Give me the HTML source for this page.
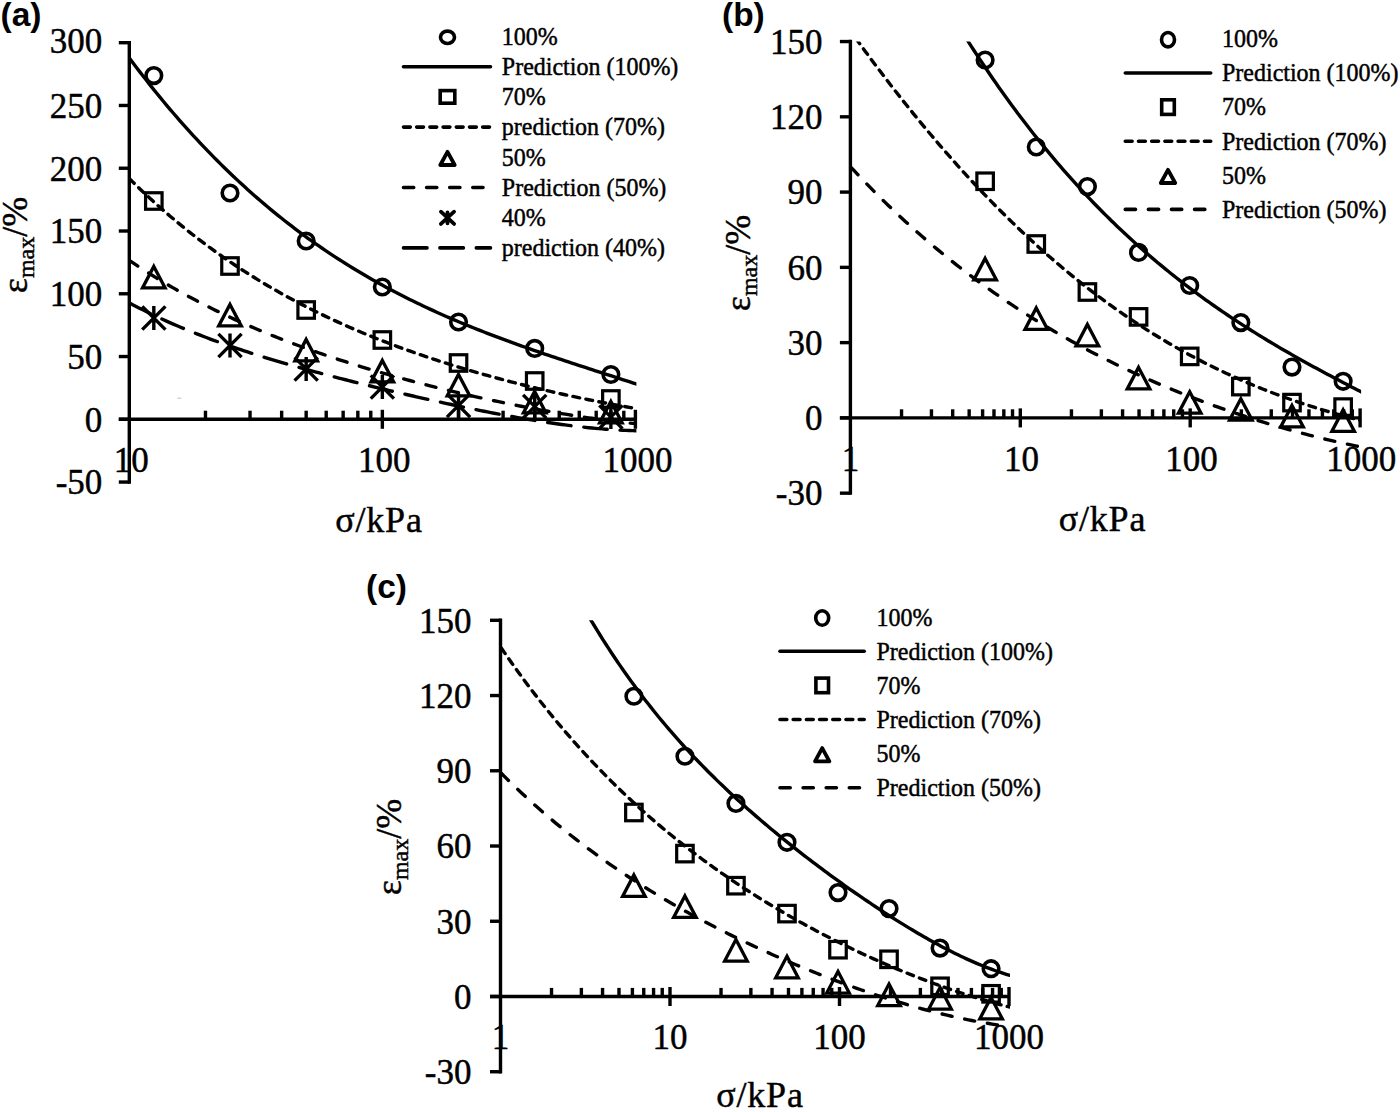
<!DOCTYPE html><html><head><meta charset="utf-8"><style>html,body{margin:0;padding:0;background:#fff;}svg{display:block;} text{stroke:#000;stroke-width:0.45px;} text[font-weight=bold]{stroke:none;}</style></head><body>
<svg width="1400" height="1112" viewBox="0 0 1400 1112">
<rect width="1400" height="1112" fill="#fff"/>
<text x="0.50" y="26.00" font-family="&quot;Liberation Sans&quot;, sans-serif" font-size="33.5" font-weight="bold" text-anchor="start">(a)</text>
<line x1="129.3" y1="42.71" x2="129.3" y2="482.06" stroke="#000" stroke-width="3.4" stroke-linecap="square"/>
<line x1="118.80" y1="482.06" x2="129.3" y2="482.06" stroke="#000" stroke-width="3.4"/>
<text transform="translate(102.30,494.37) scale(1.0,1.04)" font-family="&quot;Liberation Serif&quot;, serif" font-size="35" font-weight="normal" text-anchor="end">-50</text>
<line x1="118.80" y1="419.30" x2="129.3" y2="419.30" stroke="#000" stroke-width="3.4"/>
<text transform="translate(102.30,431.60) scale(1.0,1.04)" font-family="&quot;Liberation Serif&quot;, serif" font-size="35" font-weight="normal" text-anchor="end">0</text>
<line x1="118.80" y1="356.54" x2="129.3" y2="356.54" stroke="#000" stroke-width="3.4"/>
<text transform="translate(102.30,368.84) scale(1.0,1.04)" font-family="&quot;Liberation Serif&quot;, serif" font-size="35" font-weight="normal" text-anchor="end">50</text>
<line x1="118.80" y1="293.77" x2="129.3" y2="293.77" stroke="#000" stroke-width="3.4"/>
<text transform="translate(102.30,306.07) scale(1.0,1.04)" font-family="&quot;Liberation Serif&quot;, serif" font-size="35" font-weight="normal" text-anchor="end">100</text>
<line x1="118.80" y1="231.00" x2="129.3" y2="231.00" stroke="#000" stroke-width="3.4"/>
<text transform="translate(102.30,243.31) scale(1.0,1.04)" font-family="&quot;Liberation Serif&quot;, serif" font-size="35" font-weight="normal" text-anchor="end">150</text>
<line x1="118.80" y1="168.24" x2="129.3" y2="168.24" stroke="#000" stroke-width="3.4"/>
<text transform="translate(102.30,180.54) scale(1.0,1.04)" font-family="&quot;Liberation Serif&quot;, serif" font-size="35" font-weight="normal" text-anchor="end">200</text>
<line x1="118.80" y1="105.47" x2="129.3" y2="105.47" stroke="#000" stroke-width="3.4"/>
<text transform="translate(102.30,117.77) scale(1.0,1.04)" font-family="&quot;Liberation Serif&quot;, serif" font-size="35" font-weight="normal" text-anchor="end">250</text>
<line x1="118.80" y1="42.71" x2="129.3" y2="42.71" stroke="#000" stroke-width="3.4"/>
<text transform="translate(102.30,53.21) scale(1.0,1.04)" font-family="&quot;Liberation Serif&quot;, serif" font-size="35" font-weight="normal" text-anchor="end">300</text>
<line x1="118.80" y1="419.30" x2="635.40" y2="419.30" stroke="#000" stroke-width="3.4"/>
<line x1="205.48" y1="410.70" x2="205.48" y2="419.30" stroke="#000" stroke-width="3.4"/>
<line x1="250.04" y1="410.70" x2="250.04" y2="419.30" stroke="#000" stroke-width="3.4"/>
<line x1="281.65" y1="410.70" x2="281.65" y2="419.30" stroke="#000" stroke-width="3.4"/>
<line x1="306.17" y1="410.70" x2="306.17" y2="419.30" stroke="#000" stroke-width="3.4"/>
<line x1="326.21" y1="410.70" x2="326.21" y2="419.30" stroke="#000" stroke-width="3.4"/>
<line x1="343.15" y1="410.70" x2="343.15" y2="419.30" stroke="#000" stroke-width="3.4"/>
<line x1="357.83" y1="410.70" x2="357.83" y2="419.30" stroke="#000" stroke-width="3.4"/>
<line x1="370.77" y1="410.70" x2="370.77" y2="419.30" stroke="#000" stroke-width="3.4"/>
<line x1="458.53" y1="410.70" x2="458.53" y2="419.30" stroke="#000" stroke-width="3.4"/>
<line x1="503.09" y1="410.70" x2="503.09" y2="419.30" stroke="#000" stroke-width="3.4"/>
<line x1="534.70" y1="410.70" x2="534.70" y2="419.30" stroke="#000" stroke-width="3.4"/>
<line x1="559.22" y1="410.70" x2="559.22" y2="419.30" stroke="#000" stroke-width="3.4"/>
<line x1="579.26" y1="410.70" x2="579.26" y2="419.30" stroke="#000" stroke-width="3.4"/>
<line x1="596.20" y1="410.70" x2="596.20" y2="419.30" stroke="#000" stroke-width="3.4"/>
<line x1="610.88" y1="410.70" x2="610.88" y2="419.30" stroke="#000" stroke-width="3.4"/>
<line x1="623.82" y1="410.70" x2="623.82" y2="419.30" stroke="#000" stroke-width="3.4"/>
<line x1="382.35" y1="409.80" x2="382.35" y2="428.80" stroke="#000" stroke-width="3.4"/>
<line x1="635.40" y1="409.80" x2="635.40" y2="428.80" stroke="#000" stroke-width="3.4"/>
<text transform="translate(131.30,471.50) scale(1.0,1.04)" font-family="&quot;Liberation Serif&quot;, serif" font-size="35" font-weight="normal" text-anchor="middle">10</text>
<text transform="translate(384.35,471.50) scale(1.0,1.04)" font-family="&quot;Liberation Serif&quot;, serif" font-size="35" font-weight="normal" text-anchor="middle">100</text>
<text transform="translate(637.40,471.50) scale(1.0,1.04)" font-family="&quot;Liberation Serif&quot;, serif" font-size="35" font-weight="normal" text-anchor="middle">1000</text>
<text transform="translate(26.50,245.00) rotate(-90)" font-family="&quot;Liberation Serif&quot;, serif" font-size="36" text-anchor="middle">ε<tspan font-size="24" dy="7">max</tspan><tspan dy="-7">/%</tspan></text>
<text x="379.00" y="532.00" font-family="&quot;Liberation Serif&quot;, serif" font-size="36" font-weight="normal" text-anchor="middle" letter-spacing="0.8">σ/kPa</text>
<clipPath id="ca"><rect x="129.30" y="42.71" width="507.10" height="439.36"/></clipPath>
<g clip-path="url(#ca)">
<path d="M129.30,57.97 L132.68,62.49 L136.06,66.96 L139.43,71.38 L142.81,75.75 L146.19,80.07 L149.57,84.35 L152.95,88.58 L156.32,92.76 L159.70,96.90 L163.08,100.99 L166.46,105.04 L169.84,109.04 L173.21,113.00 L176.59,116.91 L179.97,120.78 L183.35,124.60 L186.73,128.38 L190.10,132.12 L193.48,135.81 L196.86,139.47 L200.24,143.08 L203.62,146.65 L206.99,150.17 L210.37,153.66 L213.75,157.11 L217.13,160.51 L220.51,163.88 L223.88,167.21 L227.26,170.49 L230.64,173.74 L234.02,176.95 L237.40,180.12 L240.77,183.26 L244.15,186.35 L247.53,189.41 L250.91,192.43 L254.29,195.42 L257.66,198.37 L261.04,201.28 L264.42,204.16 L267.80,207.01 L271.18,209.82 L274.55,212.59 L277.93,215.33 L281.31,218.04 L284.69,220.71 L288.07,223.35 L291.44,225.96 L294.82,228.54 L298.20,231.08 L301.58,233.59 L304.96,236.07 L308.33,238.52 L311.71,240.94 L315.09,243.33 L318.47,245.69 L321.85,248.02 L325.22,250.32 L328.60,252.60 L331.98,254.84 L335.36,257.06 L338.74,259.25 L342.11,261.41 L345.49,263.54 L348.87,265.65 L352.25,267.73 L355.63,269.78 L359.00,271.81 L362.38,273.81 L365.76,275.79 L369.14,277.75 L372.52,279.68 L375.89,281.58 L379.27,283.46 L382.65,285.32 L386.03,287.16 L389.41,288.97 L392.78,290.76 L396.16,292.53 L399.54,294.28 L402.92,296.01 L406.30,297.71 L409.67,299.40 L413.05,301.06 L416.43,302.71 L419.81,304.34 L423.19,305.94 L426.56,307.53 L429.94,309.10 L433.32,310.65 L436.70,312.19 L440.08,313.71 L443.45,315.21 L446.83,316.69 L450.21,318.16 L453.59,319.61 L456.97,321.04 L460.34,322.46 L463.72,323.87 L467.10,325.26 L470.48,326.64 L473.86,328.00 L477.23,329.35 L480.61,330.69 L483.99,332.01 L487.37,333.32 L490.75,334.62 L494.12,335.91 L497.50,337.18 L500.88,338.45 L504.26,339.70 L507.64,340.95 L511.01,342.18 L514.39,343.40 L517.77,344.62 L521.15,345.82 L524.53,347.02 L527.90,348.21 L531.28,349.39 L534.66,350.56 L538.04,351.73 L541.42,352.89 L544.79,354.04 L548.17,355.18 L551.55,356.32 L554.93,357.46 L558.31,358.59 L561.68,359.71 L565.06,360.83 L568.44,361.95 L571.82,363.06 L575.20,364.17 L578.57,365.28 L581.95,366.38 L585.33,367.48 L588.71,368.58 L592.09,369.68 L595.46,370.77 L598.84,371.87 L602.22,372.96 L605.60,374.05 L608.98,375.15 L612.35,376.24 L615.73,377.34 L619.11,378.43 L622.49,379.53 L625.87,380.63 L629.24,381.73 L632.62,382.83 L636.00,383.94" fill="none" stroke="#000" stroke-width="3.4" stroke-linecap="round" stroke-linejoin="round"/>
<path d="M129.30,178.57 L132.68,181.91 L136.06,185.21 L139.43,188.46 L142.81,191.67 L146.19,194.84 L149.57,197.98 L152.95,201.07 L156.32,204.12 L159.70,207.13 L163.08,210.11 L166.46,213.04 L169.84,215.94 L173.21,218.80 L176.59,221.63 L179.97,224.42 L183.35,227.17 L186.73,229.89 L190.10,232.58 L193.48,235.23 L196.86,237.84 L200.24,240.42 L203.62,242.97 L206.99,245.49 L210.37,247.97 L213.75,250.43 L217.13,252.85 L220.51,255.24 L223.88,257.60 L227.26,259.93 L230.64,262.23 L234.02,264.50 L237.40,266.74 L240.77,268.96 L244.15,271.14 L247.53,273.30 L250.91,275.43 L254.29,277.54 L257.66,279.61 L261.04,281.67 L264.42,283.69 L267.80,285.69 L271.18,287.67 L274.55,289.62 L277.93,291.54 L281.31,293.44 L284.69,295.32 L288.07,297.18 L291.44,299.01 L294.82,300.82 L298.20,302.60 L301.58,304.37 L304.96,306.11 L308.33,307.83 L311.71,309.53 L315.09,311.21 L318.47,312.87 L321.85,314.51 L325.22,316.13 L328.60,317.73 L331.98,319.31 L335.36,320.87 L338.74,322.42 L342.11,323.94 L345.49,325.45 L348.87,326.94 L352.25,328.41 L355.63,329.86 L359.00,331.30 L362.38,332.72 L365.76,334.12 L369.14,335.51 L372.52,336.88 L375.89,338.24 L379.27,339.58 L382.65,340.90 L386.03,342.21 L389.41,343.50 L392.78,344.78 L396.16,346.05 L399.54,347.30 L402.92,348.54 L406.30,349.76 L409.67,350.97 L413.05,352.17 L416.43,353.35 L419.81,354.52 L423.19,355.68 L426.56,356.82 L429.94,357.96 L433.32,359.08 L436.70,360.18 L440.08,361.28 L443.45,362.37 L446.83,363.44 L450.21,364.50 L453.59,365.55 L456.97,366.59 L460.34,367.62 L463.72,368.64 L467.10,369.64 L470.48,370.64 L473.86,371.63 L477.23,372.60 L480.61,373.57 L483.99,374.52 L487.37,375.47 L490.75,376.41 L494.12,377.33 L497.50,378.25 L500.88,379.16 L504.26,380.06 L507.64,380.95 L511.01,381.83 L514.39,382.70 L517.77,383.56 L521.15,384.41 L524.53,385.26 L527.90,386.09 L531.28,386.92 L534.66,387.74 L538.04,388.55 L541.42,389.35 L544.79,390.14 L548.17,390.93 L551.55,391.71 L554.93,392.47 L558.31,393.23 L561.68,393.99 L565.06,394.73 L568.44,395.47 L571.82,396.19 L575.20,396.91 L578.57,397.63 L581.95,398.33 L585.33,399.02 L588.71,399.71 L592.09,400.39 L595.46,401.06 L598.84,401.73 L602.22,402.38 L605.60,403.03 L608.98,403.67 L612.35,404.30 L615.73,404.92 L619.11,405.54 L622.49,406.15 L625.87,406.75 L629.24,407.34 L632.62,407.92 L636.00,408.49" fill="none" stroke="#000" stroke-width="3.4" stroke-linecap="round" stroke-linejoin="round" stroke-dasharray="6.8 6.4"/>
<path d="M129.30,260.40 L132.68,262.69 L136.06,264.94 L139.43,267.16 L142.81,269.36 L146.19,271.53 L149.57,273.66 L152.95,275.77 L156.32,277.86 L159.70,279.91 L163.08,281.94 L166.46,283.94 L169.84,285.92 L173.21,287.87 L176.59,289.80 L179.97,291.70 L183.35,293.58 L186.73,295.43 L190.10,297.27 L193.48,299.07 L196.86,300.86 L200.24,302.62 L203.62,304.36 L206.99,306.08 L210.37,307.78 L213.75,309.45 L217.13,311.11 L220.51,312.75 L223.88,314.36 L227.26,315.96 L230.64,317.54 L234.02,319.10 L237.40,320.63 L240.77,322.16 L244.15,323.66 L247.53,325.15 L250.91,326.61 L254.29,328.06 L257.66,329.50 L261.04,330.92 L264.42,332.32 L267.80,333.70 L271.18,335.07 L274.55,336.43 L277.93,337.77 L281.31,339.09 L284.69,340.40 L288.07,341.70 L291.44,342.98 L294.82,344.25 L298.20,345.50 L301.58,346.74 L304.96,347.97 L308.33,349.18 L311.71,350.38 L315.09,351.57 L318.47,352.75 L321.85,353.91 L325.22,355.06 L328.60,356.21 L331.98,357.33 L335.36,358.45 L338.74,359.56 L342.11,360.65 L345.49,361.74 L348.87,362.81 L352.25,363.88 L355.63,364.93 L359.00,365.97 L362.38,367.01 L365.76,368.03 L369.14,369.05 L372.52,370.05 L375.89,371.05 L379.27,372.03 L382.65,373.01 L386.03,373.98 L389.41,374.94 L392.78,375.89 L396.16,376.83 L399.54,377.76 L402.92,378.69 L406.30,379.60 L409.67,380.51 L413.05,381.41 L416.43,382.30 L419.81,383.19 L423.19,384.06 L426.56,384.93 L429.94,385.79 L433.32,386.65 L436.70,387.49 L440.08,388.33 L443.45,389.16 L446.83,389.98 L450.21,390.80 L453.59,391.60 L456.97,392.41 L460.34,393.20 L463.72,393.99 L467.10,394.76 L470.48,395.54 L473.86,396.30 L477.23,397.06 L480.61,397.81 L483.99,398.55 L487.37,399.29 L490.75,400.01 L494.12,400.74 L497.50,401.45 L500.88,402.16 L504.26,402.86 L507.64,403.55 L511.01,404.23 L514.39,404.91 L517.77,405.58 L521.15,406.24 L524.53,406.90 L527.90,407.54 L531.28,408.18 L534.66,408.81 L538.04,409.44 L541.42,410.06 L544.79,410.66 L548.17,411.26 L551.55,411.86 L554.93,412.44 L558.31,413.02 L561.68,413.58 L565.06,414.14 L568.44,414.69 L571.82,415.23 L575.20,415.77 L578.57,416.29 L581.95,416.80 L585.33,417.31 L588.71,417.81 L592.09,418.29 L595.46,418.77 L598.84,419.24 L602.22,419.69 L605.60,420.14 L608.98,420.58 L612.35,421.00 L615.73,421.42 L619.11,421.83 L622.49,422.22 L625.87,422.60 L629.24,422.98 L632.62,423.34 L636.00,423.68" fill="none" stroke="#000" stroke-width="3.4" stroke-linecap="round" stroke-linejoin="round" stroke-dasharray="10.2 12.9"/>
<path d="M129.30,302.83 L132.68,304.63 L136.06,306.40 L139.43,308.14 L142.81,309.85 L146.19,311.54 L149.57,313.19 L152.95,314.82 L156.32,316.43 L159.70,318.01 L163.08,319.56 L166.46,321.09 L169.84,322.60 L173.21,324.08 L176.59,325.55 L179.97,326.99 L183.35,328.40 L186.73,329.80 L190.10,331.18 L193.48,332.54 L196.86,333.87 L200.24,335.19 L203.62,336.50 L206.99,337.78 L210.37,339.04 L213.75,340.29 L217.13,341.52 L220.51,342.74 L223.88,343.94 L227.26,345.13 L230.64,346.30 L234.02,347.45 L237.40,348.60 L240.77,349.73 L244.15,350.84 L247.53,351.94 L250.91,353.03 L254.29,354.11 L257.66,355.18 L261.04,356.23 L264.42,357.28 L267.80,358.31 L271.18,359.34 L274.55,360.35 L277.93,361.35 L281.31,362.35 L284.69,363.33 L288.07,364.31 L291.44,365.27 L294.82,366.23 L298.20,367.18 L301.58,368.13 L304.96,369.06 L308.33,369.99 L311.71,370.91 L315.09,371.82 L318.47,372.73 L321.85,373.63 L325.22,374.53 L328.60,375.42 L331.98,376.30 L335.36,377.18 L338.74,378.05 L342.11,378.91 L345.49,379.77 L348.87,380.63 L352.25,381.48 L355.63,382.32 L359.00,383.17 L362.38,384.00 L365.76,384.83 L369.14,385.66 L372.52,386.48 L375.89,387.30 L379.27,388.11 L382.65,388.92 L386.03,389.73 L389.41,390.53 L392.78,391.33 L396.16,392.12 L399.54,392.91 L402.92,393.70 L406.30,394.48 L409.67,395.26 L413.05,396.03 L416.43,396.80 L419.81,397.57 L423.19,398.33 L426.56,399.08 L429.94,399.84 L433.32,400.59 L436.70,401.33 L440.08,402.07 L443.45,402.81 L446.83,403.54 L450.21,404.26 L453.59,404.98 L456.97,405.70 L460.34,406.41 L463.72,407.12 L467.10,407.82 L470.48,408.52 L473.86,409.21 L477.23,409.89 L480.61,410.57 L483.99,411.24 L487.37,411.91 L490.75,412.57 L494.12,413.22 L497.50,413.86 L500.88,414.50 L504.26,415.13 L507.64,415.76 L511.01,416.37 L514.39,416.98 L517.77,417.58 L521.15,418.17 L524.53,418.75 L527.90,419.33 L531.28,419.89 L534.66,420.44 L538.04,420.98 L541.42,421.52 L544.79,422.04 L548.17,422.55 L551.55,423.05 L554.93,423.54 L558.31,424.01 L561.68,424.48 L565.06,424.93 L568.44,425.37 L571.82,425.79 L575.20,426.20 L578.57,426.59 L581.95,426.98 L585.33,427.34 L588.71,427.69 L592.09,428.02 L595.46,428.34 L598.84,428.64 L602.22,428.92 L605.60,429.19 L608.98,429.43 L612.35,429.66 L615.73,429.87 L619.11,430.06 L622.49,430.23 L625.87,430.37 L629.24,430.50 L632.62,430.60 L636.00,430.68" fill="none" stroke="#000" stroke-width="3.4" stroke-linecap="round" stroke-linejoin="round" stroke-dasharray="23.5 12.9"/>
</g>
<circle cx="153.82" cy="75.60" r="7.8" fill="none" stroke="#000" stroke-width="3.6"/>
<circle cx="230.00" cy="193.00" r="7.8" fill="none" stroke="#000" stroke-width="3.6"/>
<circle cx="306.17" cy="241.00" r="7.8" fill="none" stroke="#000" stroke-width="3.6"/>
<circle cx="382.35" cy="287.00" r="7.8" fill="none" stroke="#000" stroke-width="3.6"/>
<circle cx="458.53" cy="322.00" r="7.8" fill="none" stroke="#000" stroke-width="3.6"/>
<circle cx="534.70" cy="348.40" r="7.8" fill="none" stroke="#000" stroke-width="3.6"/>
<circle cx="610.88" cy="374.50" r="7.8" fill="none" stroke="#000" stroke-width="3.6"/>
<rect x="145.57" y="192.75" width="16.5" height="16.5" fill="none" stroke="#000" stroke-width="3.2"/>
<rect x="221.75" y="257.75" width="16.5" height="16.5" fill="none" stroke="#000" stroke-width="3.2"/>
<rect x="297.92" y="301.75" width="16.5" height="16.5" fill="none" stroke="#000" stroke-width="3.2"/>
<rect x="374.10" y="331.75" width="16.5" height="16.5" fill="none" stroke="#000" stroke-width="3.2"/>
<rect x="450.28" y="354.75" width="16.5" height="16.5" fill="none" stroke="#000" stroke-width="3.2"/>
<rect x="526.45" y="372.75" width="16.5" height="16.5" fill="none" stroke="#000" stroke-width="3.2"/>
<rect x="602.63" y="390.75" width="16.5" height="16.5" fill="none" stroke="#000" stroke-width="3.2"/>
<path d="M153.82,266.40 L165.12,287.90 L142.52,287.90 Z" fill="none" stroke="#000" stroke-width="3.3" stroke-linejoin="miter"/>
<path d="M230.00,304.40 L241.30,325.90 L218.70,325.90 Z" fill="none" stroke="#000" stroke-width="3.3" stroke-linejoin="miter"/>
<path d="M306.17,339.40 L317.47,360.90 L294.87,360.90 Z" fill="none" stroke="#000" stroke-width="3.3" stroke-linejoin="miter"/>
<path d="M382.35,360.40 L393.65,381.90 L371.05,381.90 Z" fill="none" stroke="#000" stroke-width="3.3" stroke-linejoin="miter"/>
<path d="M458.53,374.40 L469.83,395.90 L447.23,395.90 Z" fill="none" stroke="#000" stroke-width="3.3" stroke-linejoin="miter"/>
<path d="M534.70,391.40 L546.00,412.90 L523.40,412.90 Z" fill="none" stroke="#000" stroke-width="3.3" stroke-linejoin="miter"/>
<path d="M610.88,401.40 L622.18,422.90 L599.58,422.90 Z" fill="none" stroke="#000" stroke-width="3.3" stroke-linejoin="miter"/>
<path d="M142.22,306.40 L165.42,329.60 M142.22,329.60 L165.42,306.40 M153.82,306.00 L153.82,330.00" fill="none" stroke="#000" stroke-width="3.4" stroke-linecap="butt"/>
<path d="M218.40,333.90 L241.60,357.10 M218.40,357.10 L241.60,333.90 M230.00,333.50 L230.00,357.50" fill="none" stroke="#000" stroke-width="3.4" stroke-linecap="butt"/>
<path d="M294.57,357.40 L317.77,380.60 M294.57,380.60 L317.77,357.40 M306.17,357.00 L306.17,381.00" fill="none" stroke="#000" stroke-width="3.4" stroke-linecap="butt"/>
<path d="M370.75,375.40 L393.95,398.60 M370.75,398.60 L393.95,375.40 M382.35,375.00 L382.35,399.00" fill="none" stroke="#000" stroke-width="3.4" stroke-linecap="butt"/>
<path d="M446.93,393.90 L470.13,417.10 M446.93,417.10 L470.13,393.90 M458.53,393.50 L458.53,417.50" fill="none" stroke="#000" stroke-width="3.4" stroke-linecap="butt"/>
<path d="M523.10,394.90 L546.30,418.10 M523.10,418.10 L546.30,394.90 M534.70,394.50 L534.70,418.50" fill="none" stroke="#000" stroke-width="3.4" stroke-linecap="butt"/>
<path d="M599.28,405.40 L622.48,428.60 M599.28,428.60 L622.48,405.40 M610.88,405.00 L610.88,429.00" fill="none" stroke="#000" stroke-width="3.4" stroke-linecap="butt"/>
<ellipse cx="447.50" cy="37.30" rx="7.0" ry="6.2" fill="none" stroke="#000" stroke-width="3.6"/>
<text transform="translate(501.80,44.80) scale(1.0,1.08)" font-family="&quot;Liberation Serif&quot;, serif" font-size="24" font-weight="normal" text-anchor="start">100%</text>
<path d="M403.50,66.70 L490.50,66.70" fill="none" stroke="#000" stroke-width="3.6" stroke-linecap="round" stroke-linejoin="round"/>
<text transform="translate(501.80,75.00) scale(1.0,1.08)" font-family="&quot;Liberation Serif&quot;, serif" font-size="24" font-weight="normal" text-anchor="start">Prediction (100%)</text>
<rect x="440.20" y="90.60" width="14.6" height="12.6" fill="none" stroke="#000" stroke-width="3.6"/>
<text transform="translate(501.80,105.20) scale(1.0,1.08)" font-family="&quot;Liberation Serif&quot;, serif" font-size="24" font-weight="normal" text-anchor="start">70%</text>
<path d="M403.50,127.10 L490.50,127.10" fill="none" stroke="#000" stroke-width="3.6" stroke-linecap="round" stroke-linejoin="round" stroke-dasharray="6.8 6.4"/>
<text transform="translate(501.80,135.40) scale(1.0,1.08)" font-family="&quot;Liberation Serif&quot;, serif" font-size="24" font-weight="normal" text-anchor="start">prediction (70%)</text>
<path d="M447.50,151.80 L454.70,165.00 L440.30,165.00 Z" fill="none" stroke="#000" stroke-width="3.8" stroke-linejoin="round"/>
<text transform="translate(501.80,165.60) scale(1.0,1.08)" font-family="&quot;Liberation Serif&quot;, serif" font-size="24" font-weight="normal" text-anchor="start">50%</text>
<path d="M403.50,187.50 L490.50,187.50" fill="none" stroke="#000" stroke-width="3.6" stroke-linecap="round" stroke-linejoin="round" stroke-dasharray="10.2 12.9"/>
<text transform="translate(501.80,195.80) scale(1.0,1.08)" font-family="&quot;Liberation Serif&quot;, serif" font-size="24" font-weight="normal" text-anchor="start">Prediction (50%)</text>
<path d="M440.90,211.70 L454.10,223.90 M440.90,223.90 L454.10,211.70 M447.50,212.30 L447.50,223.30" fill="none" stroke="#000" stroke-width="3.8" stroke-linecap="round"/>
<text transform="translate(501.80,226.00) scale(1.0,1.08)" font-family="&quot;Liberation Serif&quot;, serif" font-size="24" font-weight="normal" text-anchor="start">40%</text>
<path d="M403.50,247.90 L490.50,247.90" fill="none" stroke="#000" stroke-width="3.6" stroke-linecap="round" stroke-linejoin="round" stroke-dasharray="23.5 12.9"/>
<text transform="translate(501.80,256.20) scale(1.0,1.08)" font-family="&quot;Liberation Serif&quot;, serif" font-size="24" font-weight="normal" text-anchor="start">prediction (40%)</text>
<text x="722.00" y="26.30" font-family="&quot;Liberation Sans&quot;, sans-serif" font-size="33.5" font-weight="bold" text-anchor="start">(b)</text>
<line x1="850.4" y1="41.55" x2="850.4" y2="493.17" stroke="#000" stroke-width="3.4" stroke-linecap="square"/>
<line x1="839.90" y1="493.17" x2="850.4" y2="493.17" stroke="#000" stroke-width="3.4"/>
<text transform="translate(822.50,505.47) scale(1.0,1.04)" font-family="&quot;Liberation Serif&quot;, serif" font-size="35" font-weight="normal" text-anchor="end">-30</text>
<line x1="839.90" y1="417.90" x2="850.4" y2="417.90" stroke="#000" stroke-width="3.4"/>
<text transform="translate(822.50,430.20) scale(1.0,1.04)" font-family="&quot;Liberation Serif&quot;, serif" font-size="35" font-weight="normal" text-anchor="end">0</text>
<line x1="839.90" y1="342.63" x2="850.4" y2="342.63" stroke="#000" stroke-width="3.4"/>
<text transform="translate(822.50,354.93) scale(1.0,1.04)" font-family="&quot;Liberation Serif&quot;, serif" font-size="35" font-weight="normal" text-anchor="end">30</text>
<line x1="839.90" y1="267.36" x2="850.4" y2="267.36" stroke="#000" stroke-width="3.4"/>
<text transform="translate(822.50,279.66) scale(1.0,1.04)" font-family="&quot;Liberation Serif&quot;, serif" font-size="35" font-weight="normal" text-anchor="end">60</text>
<line x1="839.90" y1="192.09" x2="850.4" y2="192.09" stroke="#000" stroke-width="3.4"/>
<text transform="translate(822.50,204.39) scale(1.0,1.04)" font-family="&quot;Liberation Serif&quot;, serif" font-size="35" font-weight="normal" text-anchor="end">90</text>
<line x1="839.90" y1="116.82" x2="850.4" y2="116.82" stroke="#000" stroke-width="3.4"/>
<text transform="translate(822.50,129.12) scale(1.0,1.04)" font-family="&quot;Liberation Serif&quot;, serif" font-size="35" font-weight="normal" text-anchor="end">120</text>
<line x1="839.90" y1="41.55" x2="850.4" y2="41.55" stroke="#000" stroke-width="3.4"/>
<text transform="translate(822.50,53.85) scale(1.0,1.04)" font-family="&quot;Liberation Serif&quot;, serif" font-size="35" font-weight="normal" text-anchor="end">150</text>
<line x1="839.90" y1="417.90" x2="1360.10" y2="417.90" stroke="#000" stroke-width="3.4"/>
<line x1="901.54" y1="409.30" x2="901.54" y2="417.90" stroke="#000" stroke-width="3.4"/>
<line x1="931.46" y1="409.30" x2="931.46" y2="417.90" stroke="#000" stroke-width="3.4"/>
<line x1="952.69" y1="409.30" x2="952.69" y2="417.90" stroke="#000" stroke-width="3.4"/>
<line x1="969.16" y1="409.30" x2="969.16" y2="417.90" stroke="#000" stroke-width="3.4"/>
<line x1="982.61" y1="409.30" x2="982.61" y2="417.90" stroke="#000" stroke-width="3.4"/>
<line x1="993.98" y1="409.30" x2="993.98" y2="417.90" stroke="#000" stroke-width="3.4"/>
<line x1="1003.83" y1="409.30" x2="1003.83" y2="417.90" stroke="#000" stroke-width="3.4"/>
<line x1="1012.53" y1="409.30" x2="1012.53" y2="417.90" stroke="#000" stroke-width="3.4"/>
<line x1="1071.44" y1="409.30" x2="1071.44" y2="417.90" stroke="#000" stroke-width="3.4"/>
<line x1="1101.36" y1="409.30" x2="1101.36" y2="417.90" stroke="#000" stroke-width="3.4"/>
<line x1="1122.59" y1="409.30" x2="1122.59" y2="417.90" stroke="#000" stroke-width="3.4"/>
<line x1="1139.06" y1="409.30" x2="1139.06" y2="417.90" stroke="#000" stroke-width="3.4"/>
<line x1="1152.51" y1="409.30" x2="1152.51" y2="417.90" stroke="#000" stroke-width="3.4"/>
<line x1="1163.88" y1="409.30" x2="1163.88" y2="417.90" stroke="#000" stroke-width="3.4"/>
<line x1="1173.73" y1="409.30" x2="1173.73" y2="417.90" stroke="#000" stroke-width="3.4"/>
<line x1="1182.43" y1="409.30" x2="1182.43" y2="417.90" stroke="#000" stroke-width="3.4"/>
<line x1="1241.34" y1="409.30" x2="1241.34" y2="417.90" stroke="#000" stroke-width="3.4"/>
<line x1="1271.26" y1="409.30" x2="1271.26" y2="417.90" stroke="#000" stroke-width="3.4"/>
<line x1="1292.49" y1="409.30" x2="1292.49" y2="417.90" stroke="#000" stroke-width="3.4"/>
<line x1="1308.96" y1="409.30" x2="1308.96" y2="417.90" stroke="#000" stroke-width="3.4"/>
<line x1="1322.41" y1="409.30" x2="1322.41" y2="417.90" stroke="#000" stroke-width="3.4"/>
<line x1="1333.78" y1="409.30" x2="1333.78" y2="417.90" stroke="#000" stroke-width="3.4"/>
<line x1="1343.63" y1="409.30" x2="1343.63" y2="417.90" stroke="#000" stroke-width="3.4"/>
<line x1="1352.33" y1="409.30" x2="1352.33" y2="417.90" stroke="#000" stroke-width="3.4"/>
<line x1="1020.30" y1="408.40" x2="1020.30" y2="427.40" stroke="#000" stroke-width="3.4"/>
<line x1="1190.20" y1="408.40" x2="1190.20" y2="427.40" stroke="#000" stroke-width="3.4"/>
<line x1="1360.10" y1="408.40" x2="1360.10" y2="427.40" stroke="#000" stroke-width="3.4"/>
<text transform="translate(850.40,470.50) scale(1.0,1.04)" font-family="&quot;Liberation Serif&quot;, serif" font-size="35" font-weight="normal" text-anchor="middle">1</text>
<text transform="translate(1021.50,470.50) scale(1.0,1.04)" font-family="&quot;Liberation Serif&quot;, serif" font-size="35" font-weight="normal" text-anchor="middle">10</text>
<text transform="translate(1191.40,470.50) scale(1.0,1.04)" font-family="&quot;Liberation Serif&quot;, serif" font-size="35" font-weight="normal" text-anchor="middle">100</text>
<text transform="translate(1361.30,470.50) scale(1.0,1.04)" font-family="&quot;Liberation Serif&quot;, serif" font-size="35" font-weight="normal" text-anchor="middle">1000</text>
<text transform="translate(750.00,263.00) rotate(-90)" font-family="&quot;Liberation Serif&quot;, serif" font-size="36" text-anchor="middle">ε<tspan font-size="24" dy="7">max</tspan><tspan dy="-7">/%</tspan></text>
<text x="1102.50" y="531.00" font-family="&quot;Liberation Serif&quot;, serif" font-size="36" font-weight="normal" text-anchor="middle" letter-spacing="0.8">σ/kPa</text>
<clipPath id="cb"><rect x="850.40" y="41.55" width="510.70" height="451.62"/></clipPath>
<g clip-path="url(#cb)">
<path d="M958.00,25.30 L960.70,29.64 L963.39,33.94 L966.09,38.21 L968.78,42.44 L971.48,46.63 L974.17,50.79 L976.87,54.91 L979.56,59.00 L982.26,63.05 L984.95,67.07 L987.65,71.05 L990.34,75.00 L993.04,78.92 L995.73,82.80 L998.43,86.65 L1001.13,90.46 L1003.82,94.24 L1006.52,97.99 L1009.21,101.71 L1011.91,105.39 L1014.60,109.04 L1017.30,112.66 L1019.99,116.25 L1022.69,119.81 L1025.38,123.33 L1028.08,126.83 L1030.77,130.29 L1033.47,133.72 L1036.16,137.13 L1038.86,140.50 L1041.56,143.84 L1044.25,147.15 L1046.95,150.44 L1049.64,153.69 L1052.34,156.92 L1055.03,160.11 L1057.73,163.28 L1060.42,166.42 L1063.12,169.53 L1065.81,172.61 L1068.51,175.67 L1071.20,178.70 L1073.90,181.70 L1076.59,184.67 L1079.29,187.62 L1081.99,190.54 L1084.68,193.43 L1087.38,196.30 L1090.07,199.14 L1092.77,201.96 L1095.46,204.75 L1098.16,207.51 L1100.85,210.25 L1103.55,212.97 L1106.24,215.66 L1108.94,218.33 L1111.63,220.97 L1114.33,223.59 L1117.02,226.19 L1119.72,228.76 L1122.42,231.31 L1125.11,233.83 L1127.81,236.33 L1130.50,238.81 L1133.20,241.27 L1135.89,243.71 L1138.59,246.12 L1141.28,248.52 L1143.98,250.89 L1146.67,253.24 L1149.37,255.57 L1152.06,257.87 L1154.76,260.16 L1157.45,262.43 L1160.15,264.68 L1162.85,266.90 L1165.54,269.11 L1168.24,271.30 L1170.93,273.47 L1173.63,275.62 L1176.32,277.75 L1179.02,279.87 L1181.71,281.96 L1184.41,284.04 L1187.10,286.10 L1189.80,288.14 L1192.49,290.16 L1195.19,292.17 L1197.88,294.16 L1200.58,296.13 L1203.28,298.09 L1205.97,300.03 L1208.67,301.95 L1211.36,303.86 L1214.06,305.75 L1216.75,307.63 L1219.45,309.49 L1222.14,311.34 L1224.84,313.18 L1227.53,314.99 L1230.23,316.80 L1232.92,318.59 L1235.62,320.37 L1238.31,322.13 L1241.01,323.88 L1243.71,325.61 L1246.40,327.34 L1249.10,329.05 L1251.79,330.75 L1254.49,332.43 L1257.18,334.11 L1259.88,335.77 L1262.57,337.42 L1265.27,339.06 L1267.96,340.69 L1270.66,342.31 L1273.35,343.91 L1276.05,345.51 L1278.74,347.10 L1281.44,348.67 L1284.14,350.24 L1286.83,351.80 L1289.53,353.34 L1292.22,354.88 L1294.92,356.41 L1297.61,357.93 L1300.31,359.44 L1303.00,360.95 L1305.70,362.45 L1308.39,363.93 L1311.09,365.42 L1313.78,366.89 L1316.48,368.36 L1319.17,369.82 L1321.87,371.27 L1324.57,372.72 L1327.26,374.16 L1329.96,375.59 L1332.65,377.02 L1335.35,378.45 L1338.04,379.86 L1340.74,381.28 L1343.43,382.69 L1346.13,384.09 L1348.82,385.49 L1351.52,386.89 L1354.21,388.28 L1356.91,389.66 L1359.60,391.05 L1362.30,392.43" fill="none" stroke="#000" stroke-width="3.4" stroke-linecap="round" stroke-linejoin="round"/>
<path d="M848.00,27.49 L851.43,32.28 L854.85,37.05 L858.28,41.78 L861.71,46.48 L865.13,51.15 L868.56,55.80 L871.99,60.41 L875.41,64.98 L878.84,69.53 L882.27,74.05 L885.69,78.54 L889.12,82.99 L892.55,87.42 L895.97,91.81 L899.40,96.17 L902.83,100.50 L906.25,104.80 L909.68,109.07 L913.11,113.31 L916.53,117.51 L919.96,121.69 L923.39,125.83 L926.81,129.94 L930.24,134.02 L933.67,138.07 L937.09,142.09 L940.52,146.08 L943.95,150.04 L947.37,153.96 L950.80,157.85 L954.23,161.72 L957.65,165.55 L961.08,169.34 L964.51,173.11 L967.93,176.85 L971.36,180.56 L974.79,184.23 L978.21,187.87 L981.64,191.49 L985.07,195.07 L988.49,198.62 L991.92,202.13 L995.35,205.62 L998.77,209.08 L1002.20,212.51 L1005.63,215.90 L1009.05,219.26 L1012.48,222.60 L1015.91,225.90 L1019.33,229.17 L1022.76,232.41 L1026.19,235.62 L1029.61,238.80 L1033.04,241.95 L1036.47,245.07 L1039.89,248.16 L1043.32,251.22 L1046.75,254.25 L1050.17,257.25 L1053.60,260.21 L1057.03,263.15 L1060.45,266.06 L1063.88,268.94 L1067.31,271.79 L1070.73,274.61 L1074.16,277.40 L1077.59,280.16 L1081.01,282.89 L1084.44,285.59 L1087.87,288.26 L1091.29,290.90 L1094.72,293.52 L1098.15,296.10 L1101.57,298.66 L1105.00,301.19 L1108.43,303.69 L1111.85,306.16 L1115.28,308.60 L1118.71,311.02 L1122.13,313.40 L1125.56,315.76 L1128.99,318.09 L1132.41,320.40 L1135.84,322.67 L1139.27,324.92 L1142.69,327.14 L1146.12,329.34 L1149.55,331.51 L1152.97,333.65 L1156.40,335.76 L1159.83,337.85 L1163.25,339.91 L1166.68,341.94 L1170.11,343.95 L1173.53,345.93 L1176.96,347.89 L1180.39,349.82 L1183.81,351.73 L1187.24,353.61 L1190.67,355.46 L1194.09,357.30 L1197.52,359.10 L1200.95,360.88 L1204.37,362.64 L1207.80,364.37 L1211.23,366.08 L1214.65,367.77 L1218.08,369.43 L1221.51,371.07 L1224.93,372.68 L1228.36,374.28 L1231.79,375.84 L1235.21,377.39 L1238.64,378.92 L1242.07,380.42 L1245.49,381.90 L1248.92,383.36 L1252.35,384.79 L1255.77,386.21 L1259.20,387.60 L1262.63,388.97 L1266.05,390.33 L1269.48,391.66 L1272.91,392.97 L1276.33,394.26 L1279.76,395.54 L1283.19,396.79 L1286.61,398.02 L1290.04,399.24 L1293.47,400.43 L1296.89,401.61 L1300.32,402.77 L1303.75,403.91 L1307.17,405.03 L1310.60,406.13 L1314.03,407.22 L1317.45,408.29 L1320.88,409.35 L1324.31,410.38 L1327.73,411.40 L1331.16,412.41 L1334.59,413.40 L1338.01,414.37 L1341.44,415.33 L1344.87,416.27 L1348.29,417.20 L1351.72,418.12 L1355.15,419.02 L1358.57,419.91 L1362.00,420.78" fill="none" stroke="#000" stroke-width="3.4" stroke-linecap="round" stroke-linejoin="round" stroke-dasharray="6.8 6.4"/>
<path d="M851.00,167.31 L854.39,170.95 L857.79,174.56 L861.18,178.13 L864.57,181.67 L867.97,185.17 L871.36,188.63 L874.75,192.06 L878.15,195.45 L881.54,198.81 L884.93,202.13 L888.33,205.42 L891.72,208.68 L895.11,211.90 L898.51,215.09 L901.90,218.25 L905.29,221.38 L908.69,224.47 L912.08,227.53 L915.47,230.56 L918.87,233.56 L922.26,236.53 L925.65,239.47 L929.05,242.37 L932.44,245.25 L935.83,248.10 L939.23,250.92 L942.62,253.71 L946.01,256.47 L949.41,259.21 L952.80,261.91 L956.19,264.59 L959.59,267.24 L962.98,269.87 L966.37,272.47 L969.77,275.04 L973.16,277.58 L976.55,280.10 L979.95,282.60 L983.34,285.07 L986.73,287.51 L990.13,289.93 L993.52,292.32 L996.91,294.69 L1000.31,297.04 L1003.70,299.36 L1007.09,301.66 L1010.49,303.93 L1013.88,306.18 L1017.27,308.41 L1020.67,310.62 L1024.06,312.81 L1027.45,314.97 L1030.85,317.11 L1034.24,319.23 L1037.63,321.33 L1041.03,323.40 L1044.42,325.46 L1047.81,327.49 L1051.21,329.51 L1054.60,331.50 L1057.99,333.48 L1061.39,335.43 L1064.78,337.37 L1068.17,339.28 L1071.57,341.18 L1074.96,343.06 L1078.35,344.91 L1081.75,346.75 L1085.14,348.58 L1088.53,350.38 L1091.93,352.16 L1095.32,353.93 L1098.71,355.68 L1102.11,357.41 L1105.50,359.13 L1108.89,360.82 L1112.29,362.50 L1115.68,364.17 L1119.07,365.81 L1122.47,367.44 L1125.86,369.06 L1129.25,370.65 L1132.65,372.24 L1136.04,373.80 L1139.43,375.35 L1142.83,376.88 L1146.22,378.40 L1149.61,379.91 L1153.01,381.39 L1156.40,382.87 L1159.79,384.32 L1163.19,385.77 L1166.58,387.19 L1169.97,388.61 L1173.37,390.01 L1176.76,391.39 L1180.15,392.76 L1183.55,394.12 L1186.94,395.46 L1190.33,396.79 L1193.73,398.10 L1197.12,399.40 L1200.51,400.69 L1203.91,401.96 L1207.30,403.22 L1210.69,404.47 L1214.09,405.70 L1217.48,406.92 L1220.87,408.12 L1224.27,409.32 L1227.66,410.50 L1231.05,411.66 L1234.45,412.82 L1237.84,413.96 L1241.23,415.09 L1244.63,416.20 L1248.02,417.31 L1251.41,418.40 L1254.81,419.48 L1258.20,420.54 L1261.59,421.60 L1264.99,422.64 L1268.38,423.67 L1271.77,424.68 L1275.17,425.69 L1278.56,426.68 L1281.95,427.66 L1285.35,428.62 L1288.74,429.58 L1292.13,430.52 L1295.53,431.45 L1298.92,432.37 L1302.31,433.28 L1305.71,434.17 L1309.10,435.05 L1312.49,435.92 L1315.89,436.78 L1319.28,437.62 L1322.67,438.46 L1326.07,439.28 L1329.46,440.09 L1332.85,440.89 L1336.25,441.67 L1339.64,442.44 L1343.03,443.20 L1346.43,443.95 L1349.82,444.69 L1353.21,445.41 L1356.61,446.12 L1360.00,446.82" fill="none" stroke="#000" stroke-width="3.4" stroke-linecap="round" stroke-linejoin="round" stroke-dasharray="10.2 12.9"/>
</g>
<circle cx="985.12" cy="60.00" r="7.8" fill="none" stroke="#000" stroke-width="3.6"/>
<circle cx="1036.27" cy="147.00" r="7.8" fill="none" stroke="#000" stroke-width="3.6"/>
<circle cx="1087.41" cy="186.60" r="7.8" fill="none" stroke="#000" stroke-width="3.6"/>
<circle cx="1138.56" cy="252.40" r="7.8" fill="none" stroke="#000" stroke-width="3.6"/>
<circle cx="1189.70" cy="285.50" r="7.8" fill="none" stroke="#000" stroke-width="3.6"/>
<circle cx="1240.84" cy="322.60" r="7.8" fill="none" stroke="#000" stroke-width="3.6"/>
<circle cx="1291.99" cy="367.10" r="7.8" fill="none" stroke="#000" stroke-width="3.6"/>
<circle cx="1343.13" cy="381.30" r="7.8" fill="none" stroke="#000" stroke-width="3.6"/>
<rect x="976.87" y="173.00" width="16.5" height="16.5" fill="none" stroke="#000" stroke-width="3.2"/>
<rect x="1028.02" y="235.75" width="16.5" height="16.5" fill="none" stroke="#000" stroke-width="3.2"/>
<rect x="1079.16" y="283.75" width="16.5" height="16.5" fill="none" stroke="#000" stroke-width="3.2"/>
<rect x="1130.31" y="308.65" width="16.5" height="16.5" fill="none" stroke="#000" stroke-width="3.2"/>
<rect x="1181.45" y="348.15" width="16.5" height="16.5" fill="none" stroke="#000" stroke-width="3.2"/>
<rect x="1232.59" y="378.35" width="16.5" height="16.5" fill="none" stroke="#000" stroke-width="3.2"/>
<rect x="1283.74" y="394.35" width="16.5" height="16.5" fill="none" stroke="#000" stroke-width="3.2"/>
<rect x="1334.88" y="398.85" width="16.5" height="16.5" fill="none" stroke="#000" stroke-width="3.2"/>
<path d="M985.12,258.40 L996.42,279.90 L973.82,279.90 Z" fill="none" stroke="#000" stroke-width="3.3" stroke-linejoin="miter"/>
<path d="M1036.27,307.90 L1047.57,329.40 L1024.97,329.40 Z" fill="none" stroke="#000" stroke-width="3.3" stroke-linejoin="miter"/>
<path d="M1087.41,324.40 L1098.71,345.90 L1076.11,345.90 Z" fill="none" stroke="#000" stroke-width="3.3" stroke-linejoin="miter"/>
<path d="M1138.56,367.40 L1149.86,388.90 L1127.26,388.90 Z" fill="none" stroke="#000" stroke-width="3.3" stroke-linejoin="miter"/>
<path d="M1189.70,391.70 L1201.00,413.20 L1178.40,413.20 Z" fill="none" stroke="#000" stroke-width="3.3" stroke-linejoin="miter"/>
<path d="M1240.84,398.70 L1252.14,420.20 L1229.54,420.20 Z" fill="none" stroke="#000" stroke-width="3.3" stroke-linejoin="miter"/>
<path d="M1291.99,405.40 L1303.29,426.90 L1280.69,426.90 Z" fill="none" stroke="#000" stroke-width="3.3" stroke-linejoin="miter"/>
<path d="M1343.13,409.90 L1354.43,431.40 L1331.83,431.40 Z" fill="none" stroke="#000" stroke-width="3.3" stroke-linejoin="miter"/>
<ellipse cx="1168.00" cy="39.70" rx="6.5" ry="7.2" fill="none" stroke="#000" stroke-width="3.6"/>
<text transform="translate(1222.00,47.20) scale(1.0,1.08)" font-family="&quot;Liberation Serif&quot;, serif" font-size="24" font-weight="normal" text-anchor="start">100%</text>
<path d="M1125.30,73.00 L1210.70,73.00" fill="none" stroke="#000" stroke-width="3.6" stroke-linecap="round" stroke-linejoin="round"/>
<text transform="translate(1222.00,81.30) scale(1.0,1.08)" font-family="&quot;Liberation Serif&quot;, serif" font-size="24" font-weight="normal" text-anchor="start">Prediction (100%)</text>
<rect x="1161.70" y="99.80" width="12.6" height="14.6" fill="none" stroke="#000" stroke-width="3.6"/>
<text transform="translate(1222.00,115.40) scale(1.0,1.08)" font-family="&quot;Liberation Serif&quot;, serif" font-size="24" font-weight="normal" text-anchor="start">70%</text>
<path d="M1125.30,141.20 L1210.70,141.20" fill="none" stroke="#000" stroke-width="3.6" stroke-linecap="round" stroke-linejoin="round" stroke-dasharray="6.8 6.4"/>
<text transform="translate(1222.00,149.50) scale(1.0,1.08)" font-family="&quot;Liberation Serif&quot;, serif" font-size="24" font-weight="normal" text-anchor="start">Prediction (70%)</text>
<path d="M1168.00,169.80 L1175.20,183.00 L1160.80,183.00 Z" fill="none" stroke="#000" stroke-width="3.8" stroke-linejoin="round"/>
<text transform="translate(1222.00,183.60) scale(1.0,1.08)" font-family="&quot;Liberation Serif&quot;, serif" font-size="24" font-weight="normal" text-anchor="start">50%</text>
<path d="M1125.30,209.40 L1210.70,209.40" fill="none" stroke="#000" stroke-width="3.6" stroke-linecap="round" stroke-linejoin="round" stroke-dasharray="10.2 12.9"/>
<text transform="translate(1222.00,217.70) scale(1.0,1.08)" font-family="&quot;Liberation Serif&quot;, serif" font-size="24" font-weight="normal" text-anchor="start">Prediction (50%)</text>
<text x="366.00" y="597.80" font-family="&quot;Liberation Sans&quot;, sans-serif" font-size="33.5" font-weight="bold" text-anchor="start">(c)</text>
<line x1="500.5" y1="620.30" x2="500.5" y2="1071.74" stroke="#000" stroke-width="3.4" stroke-linecap="square"/>
<line x1="490.00" y1="1071.74" x2="500.5" y2="1071.74" stroke="#000" stroke-width="3.4"/>
<text transform="translate(471.50,1084.04) scale(1.0,1.04)" font-family="&quot;Liberation Serif&quot;, serif" font-size="35" font-weight="normal" text-anchor="end">-30</text>
<line x1="490.00" y1="996.50" x2="500.5" y2="996.50" stroke="#000" stroke-width="3.4"/>
<text transform="translate(471.50,1008.80) scale(1.0,1.04)" font-family="&quot;Liberation Serif&quot;, serif" font-size="35" font-weight="normal" text-anchor="end">0</text>
<line x1="490.00" y1="921.26" x2="500.5" y2="921.26" stroke="#000" stroke-width="3.4"/>
<text transform="translate(471.50,933.56) scale(1.0,1.04)" font-family="&quot;Liberation Serif&quot;, serif" font-size="35" font-weight="normal" text-anchor="end">30</text>
<line x1="490.00" y1="846.02" x2="500.5" y2="846.02" stroke="#000" stroke-width="3.4"/>
<text transform="translate(471.50,858.32) scale(1.0,1.04)" font-family="&quot;Liberation Serif&quot;, serif" font-size="35" font-weight="normal" text-anchor="end">60</text>
<line x1="490.00" y1="770.78" x2="500.5" y2="770.78" stroke="#000" stroke-width="3.4"/>
<text transform="translate(471.50,783.08) scale(1.0,1.04)" font-family="&quot;Liberation Serif&quot;, serif" font-size="35" font-weight="normal" text-anchor="end">90</text>
<line x1="490.00" y1="695.54" x2="500.5" y2="695.54" stroke="#000" stroke-width="3.4"/>
<text transform="translate(471.50,707.84) scale(1.0,1.04)" font-family="&quot;Liberation Serif&quot;, serif" font-size="35" font-weight="normal" text-anchor="end">120</text>
<line x1="490.00" y1="620.30" x2="500.5" y2="620.30" stroke="#000" stroke-width="3.4"/>
<text transform="translate(471.50,632.60) scale(1.0,1.04)" font-family="&quot;Liberation Serif&quot;, serif" font-size="35" font-weight="normal" text-anchor="end">150</text>
<line x1="490.00" y1="996.50" x2="1009.00" y2="996.50" stroke="#000" stroke-width="3.4"/>
<line x1="551.52" y1="987.90" x2="551.52" y2="996.50" stroke="#000" stroke-width="3.4"/>
<line x1="581.37" y1="987.90" x2="581.37" y2="996.50" stroke="#000" stroke-width="3.4"/>
<line x1="602.55" y1="987.90" x2="602.55" y2="996.50" stroke="#000" stroke-width="3.4"/>
<line x1="618.98" y1="987.90" x2="618.98" y2="996.50" stroke="#000" stroke-width="3.4"/>
<line x1="632.40" y1="987.90" x2="632.40" y2="996.50" stroke="#000" stroke-width="3.4"/>
<line x1="643.74" y1="987.90" x2="643.74" y2="996.50" stroke="#000" stroke-width="3.4"/>
<line x1="653.57" y1="987.90" x2="653.57" y2="996.50" stroke="#000" stroke-width="3.4"/>
<line x1="662.24" y1="987.90" x2="662.24" y2="996.50" stroke="#000" stroke-width="3.4"/>
<line x1="721.02" y1="987.90" x2="721.02" y2="996.50" stroke="#000" stroke-width="3.4"/>
<line x1="750.87" y1="987.90" x2="750.87" y2="996.50" stroke="#000" stroke-width="3.4"/>
<line x1="772.05" y1="987.90" x2="772.05" y2="996.50" stroke="#000" stroke-width="3.4"/>
<line x1="788.48" y1="987.90" x2="788.48" y2="996.50" stroke="#000" stroke-width="3.4"/>
<line x1="801.90" y1="987.90" x2="801.90" y2="996.50" stroke="#000" stroke-width="3.4"/>
<line x1="813.24" y1="987.90" x2="813.24" y2="996.50" stroke="#000" stroke-width="3.4"/>
<line x1="823.07" y1="987.90" x2="823.07" y2="996.50" stroke="#000" stroke-width="3.4"/>
<line x1="831.74" y1="987.90" x2="831.74" y2="996.50" stroke="#000" stroke-width="3.4"/>
<line x1="890.52" y1="987.90" x2="890.52" y2="996.50" stroke="#000" stroke-width="3.4"/>
<line x1="920.37" y1="987.90" x2="920.37" y2="996.50" stroke="#000" stroke-width="3.4"/>
<line x1="941.55" y1="987.90" x2="941.55" y2="996.50" stroke="#000" stroke-width="3.4"/>
<line x1="957.98" y1="987.90" x2="957.98" y2="996.50" stroke="#000" stroke-width="3.4"/>
<line x1="971.40" y1="987.90" x2="971.40" y2="996.50" stroke="#000" stroke-width="3.4"/>
<line x1="982.74" y1="987.90" x2="982.74" y2="996.50" stroke="#000" stroke-width="3.4"/>
<line x1="992.57" y1="987.90" x2="992.57" y2="996.50" stroke="#000" stroke-width="3.4"/>
<line x1="1001.24" y1="987.90" x2="1001.24" y2="996.50" stroke="#000" stroke-width="3.4"/>
<line x1="670.00" y1="987.00" x2="670.00" y2="1006.00" stroke="#000" stroke-width="3.4"/>
<line x1="839.50" y1="987.00" x2="839.50" y2="1006.00" stroke="#000" stroke-width="3.4"/>
<line x1="1009.00" y1="987.00" x2="1009.00" y2="1006.00" stroke="#000" stroke-width="3.4"/>
<text transform="translate(500.50,1048.50) scale(1.0,1.04)" font-family="&quot;Liberation Serif&quot;, serif" font-size="35" font-weight="normal" text-anchor="middle">1</text>
<text transform="translate(670.00,1048.50) scale(1.0,1.04)" font-family="&quot;Liberation Serif&quot;, serif" font-size="35" font-weight="normal" text-anchor="middle">10</text>
<text transform="translate(839.50,1048.50) scale(1.0,1.04)" font-family="&quot;Liberation Serif&quot;, serif" font-size="35" font-weight="normal" text-anchor="middle">100</text>
<text transform="translate(1009.00,1048.50) scale(1.0,1.04)" font-family="&quot;Liberation Serif&quot;, serif" font-size="35" font-weight="normal" text-anchor="middle">1000</text>
<text transform="translate(401.00,847.00) rotate(-90)" font-family="&quot;Liberation Serif&quot;, serif" font-size="36" text-anchor="middle">ε<tspan font-size="24" dy="7">max</tspan><tspan dy="-7">/%</tspan></text>
<text x="760.00" y="1106.50" font-family="&quot;Liberation Serif&quot;, serif" font-size="36" font-weight="normal" text-anchor="middle" letter-spacing="0.8">σ/kPa</text>
<clipPath id="cc"><rect x="500.50" y="620.30" width="509.50" height="451.44"/></clipPath>
<g clip-path="url(#cc)">
<path d="M583.00,606.44 L585.84,611.37 L588.68,616.24 L591.52,621.03 L594.36,625.75 L597.20,630.41 L600.04,635.00 L602.88,639.53 L605.73,643.99 L608.57,648.39 L611.41,652.73 L614.25,657.00 L617.09,661.22 L619.93,665.39 L622.77,669.49 L625.61,673.54 L628.45,677.54 L631.29,681.48 L634.13,685.37 L636.97,689.21 L639.81,693.00 L642.65,696.74 L645.49,700.43 L648.34,704.07 L651.18,707.67 L654.02,711.23 L656.86,714.74 L659.70,718.21 L662.54,721.63 L665.38,725.02 L668.22,728.36 L671.06,731.66 L673.90,734.93 L676.74,738.16 L679.58,741.35 L682.42,744.51 L685.26,747.63 L688.10,750.71 L690.95,753.77 L693.79,756.79 L696.63,759.78 L699.47,762.73 L702.31,765.66 L705.15,768.56 L707.99,771.43 L710.83,774.27 L713.67,777.08 L716.51,779.86 L719.35,782.62 L722.19,785.35 L725.03,788.06 L727.87,790.75 L730.71,793.41 L733.56,796.04 L736.40,798.66 L739.24,801.25 L742.08,803.82 L744.92,806.37 L747.76,808.90 L750.60,811.40 L753.44,813.89 L756.28,816.36 L759.12,818.81 L761.96,821.25 L764.80,823.66 L767.64,826.06 L770.48,828.44 L773.32,830.80 L776.17,833.15 L779.01,835.48 L781.85,837.79 L784.69,840.09 L787.53,842.38 L790.37,844.65 L793.21,846.91 L796.05,849.15 L798.89,851.37 L801.73,853.59 L804.57,855.79 L807.41,857.98 L810.25,860.15 L813.09,862.31 L815.93,864.46 L818.78,866.59 L821.62,868.72 L824.46,870.83 L827.30,872.93 L830.14,875.01 L832.98,877.08 L835.82,879.15 L838.66,881.20 L841.50,883.23 L844.34,885.26 L847.18,887.27 L850.02,889.27 L852.86,891.26 L855.70,893.24 L858.54,895.21 L861.39,897.16 L864.23,899.10 L867.07,901.03 L869.91,902.94 L872.75,904.85 L875.59,906.74 L878.43,908.62 L881.27,910.48 L884.11,912.33 L886.95,914.17 L889.79,915.99 L892.63,917.80 L895.47,919.60 L898.31,921.38 L901.15,923.14 L904.00,924.90 L906.84,926.63 L909.68,928.35 L912.52,930.06 L915.36,931.74 L918.20,933.41 L921.04,935.07 L923.88,936.70 L926.72,938.32 L929.56,939.92 L932.40,941.50 L935.24,943.07 L938.08,944.61 L940.92,946.13 L943.76,947.63 L946.61,949.11 L949.45,950.57 L952.29,952.01 L955.13,953.42 L957.97,954.82 L960.81,956.18 L963.65,957.52 L966.49,958.84 L969.33,960.13 L972.17,961.40 L975.01,962.64 L977.85,963.85 L980.69,965.03 L983.53,966.18 L986.37,967.31 L989.22,968.40 L992.06,969.46 L994.90,970.49 L997.74,971.49 L1000.58,972.45 L1003.42,973.38 L1006.26,974.28 L1009.10,975.14" fill="none" stroke="#000" stroke-width="3.4" stroke-linecap="round" stroke-linejoin="round"/>
<path d="M501.25,647.97 L504.63,652.89 L508.02,657.76 L511.40,662.56 L514.79,667.31 L518.17,672.00 L521.56,676.64 L524.95,681.21 L528.33,685.74 L531.72,690.20 L535.10,694.62 L538.49,698.98 L541.87,703.29 L545.25,707.54 L548.64,711.75 L552.02,715.91 L555.41,720.01 L558.79,724.07 L562.18,728.08 L565.57,732.04 L568.95,735.95 L572.34,739.82 L575.72,743.64 L579.11,747.42 L582.49,751.15 L585.88,754.84 L589.26,758.49 L592.64,762.09 L596.03,765.65 L599.41,769.18 L602.80,772.65 L606.18,776.09 L609.57,779.49 L612.96,782.86 L616.34,786.18 L619.73,789.46 L623.11,792.71 L626.50,795.92 L629.88,799.09 L633.26,802.23 L636.65,805.34 L640.03,808.41 L643.42,811.44 L646.81,814.44 L650.19,817.41 L653.58,820.34 L656.96,823.25 L660.35,826.12 L663.73,828.96 L667.12,831.77 L670.50,834.55 L673.88,837.29 L677.27,840.01 L680.65,842.70 L684.04,845.37 L687.42,848.00 L690.81,850.60 L694.19,853.18 L697.58,855.73 L700.97,858.26 L704.35,860.76 L707.74,863.23 L711.12,865.68 L714.50,868.10 L717.89,870.50 L721.27,872.87 L724.66,875.22 L728.04,877.55 L731.43,879.85 L734.82,882.13 L738.20,884.39 L741.59,886.62 L744.97,888.83 L748.36,891.02 L751.74,893.19 L755.12,895.34 L758.51,897.47 L761.89,899.57 L765.28,901.66 L768.66,903.72 L772.05,905.77 L775.43,907.80 L778.82,909.80 L782.20,911.79 L785.59,913.76 L788.98,915.71 L792.36,917.64 L795.75,919.55 L799.13,921.45 L802.51,923.32 L805.90,925.18 L809.29,927.02 L812.67,928.85 L816.06,930.65 L819.44,932.44 L822.83,934.21 L826.21,935.97 L829.60,937.71 L832.98,939.43 L836.37,941.14 L839.75,942.83 L843.13,944.50 L846.52,946.16 L849.90,947.80 L853.29,949.42 L856.67,951.03 L860.06,952.62 L863.44,954.20 L866.83,955.76 L870.21,957.31 L873.60,958.84 L876.99,960.35 L880.37,961.85 L883.75,963.34 L887.14,964.81 L890.52,966.26 L893.91,967.70 L897.30,969.12 L900.68,970.52 L904.07,971.91 L907.45,973.29 L910.84,974.65 L914.22,975.99 L917.61,977.32 L920.99,978.63 L924.38,979.93 L927.76,981.21 L931.14,982.48 L934.53,983.73 L937.91,984.96 L941.30,986.18 L944.68,987.38 L948.07,988.56 L951.45,989.73 L954.84,990.88 L958.23,992.01 L961.61,993.13 L965.00,994.23 L968.38,995.31 L971.76,996.38 L975.15,997.43 L978.54,998.46 L981.92,999.47 L985.31,1000.47 L988.69,1001.44 L992.08,1002.40 L995.46,1003.34 L998.85,1004.26 L1002.23,1005.16 L1005.62,1006.05 L1009.00,1006.91" fill="none" stroke="#000" stroke-width="3.4" stroke-linecap="round" stroke-linejoin="round" stroke-dasharray="6.8 6.4"/>
<path d="M501.25,773.23 L504.64,776.62 L508.02,779.97 L511.41,783.28 L514.79,786.55 L518.18,789.78 L521.56,792.97 L524.95,796.12 L528.34,799.23 L531.72,802.30 L535.11,805.34 L538.49,808.35 L541.88,811.31 L545.26,814.24 L548.65,817.14 L552.03,820.01 L555.42,822.84 L558.81,825.63 L562.19,828.40 L565.58,831.13 L568.96,833.84 L572.35,836.51 L575.73,839.15 L579.12,841.76 L582.51,844.35 L585.89,846.90 L589.28,849.43 L592.66,851.93 L596.05,854.40 L599.43,856.84 L602.82,859.26 L606.21,861.65 L609.59,864.02 L612.98,866.36 L616.36,868.68 L619.75,870.97 L623.13,873.24 L626.52,875.49 L629.91,877.71 L633.29,879.91 L636.68,882.09 L640.06,884.25 L643.45,886.38 L646.83,888.49 L650.22,890.59 L653.61,892.66 L656.99,894.71 L660.38,896.74 L663.76,898.76 L667.15,900.75 L670.53,902.72 L673.92,904.68 L677.30,906.62 L680.69,908.54 L684.08,910.44 L687.46,912.33 L690.85,914.19 L694.23,916.05 L697.62,917.88 L701.00,919.70 L704.39,921.50 L707.78,923.29 L711.16,925.06 L714.55,926.81 L717.93,928.55 L721.32,930.27 L724.70,931.98 L728.09,933.68 L731.48,935.36 L734.86,937.02 L738.25,938.67 L741.63,940.31 L745.02,941.94 L748.40,943.55 L751.79,945.14 L755.17,946.73 L758.56,948.29 L761.95,949.85 L765.33,951.39 L768.72,952.92 L772.10,954.44 L775.49,955.95 L778.87,957.44 L782.26,958.92 L785.65,960.38 L789.03,961.84 L792.42,963.28 L795.80,964.71 L799.19,966.12 L802.57,967.53 L805.96,968.92 L809.35,970.30 L812.73,971.66 L816.12,973.02 L819.50,974.36 L822.89,975.69 L826.27,977.01 L829.66,978.31 L833.05,979.61 L836.43,980.89 L839.82,982.15 L843.20,983.41 L846.59,984.65 L849.97,985.88 L853.36,987.10 L856.75,988.30 L860.13,989.49 L863.52,990.67 L866.90,991.83 L870.29,992.99 L873.67,994.12 L877.06,995.25 L880.44,996.36 L883.83,997.46 L887.22,998.54 L890.60,999.61 L893.99,1000.66 L897.37,1001.70 L900.76,1002.73 L904.14,1003.74 L907.53,1004.74 L910.92,1005.72 L914.30,1006.68 L917.69,1007.63 L921.07,1008.57 L924.46,1009.49 L927.84,1010.39 L931.23,1011.27 L934.62,1012.14 L938.00,1012.99 L941.39,1013.83 L944.77,1014.64 L948.16,1015.44 L951.54,1016.22 L954.93,1016.99 L958.32,1017.73 L961.70,1018.46 L965.09,1019.16 L968.47,1019.85 L971.86,1020.51 L975.24,1021.16 L978.63,1021.78 L982.01,1022.39 L985.40,1022.97 L988.79,1023.53 L992.17,1024.07 L995.56,1024.59 L998.94,1025.08 L1002.33,1025.55 L1005.71,1026.00 L1009.10,1026.43" fill="none" stroke="#000" stroke-width="3.4" stroke-linecap="round" stroke-linejoin="round" stroke-dasharray="10.2 12.9"/>
</g>
<circle cx="633.90" cy="696.25" r="7.8" fill="none" stroke="#000" stroke-width="3.6"/>
<circle cx="684.93" cy="756.25" r="7.8" fill="none" stroke="#000" stroke-width="3.6"/>
<circle cx="735.95" cy="803.40" r="7.8" fill="none" stroke="#000" stroke-width="3.6"/>
<circle cx="786.98" cy="842.30" r="7.8" fill="none" stroke="#000" stroke-width="3.6"/>
<circle cx="838.00" cy="892.60" r="7.8" fill="none" stroke="#000" stroke-width="3.6"/>
<circle cx="889.02" cy="908.60" r="7.8" fill="none" stroke="#000" stroke-width="3.6"/>
<circle cx="940.05" cy="948.10" r="7.8" fill="none" stroke="#000" stroke-width="3.6"/>
<circle cx="991.07" cy="968.70" r="7.8" fill="none" stroke="#000" stroke-width="3.6"/>
<rect x="625.65" y="804.25" width="16.5" height="16.5" fill="none" stroke="#000" stroke-width="3.2"/>
<rect x="676.68" y="845.35" width="16.5" height="16.5" fill="none" stroke="#000" stroke-width="3.2"/>
<rect x="727.70" y="877.45" width="16.5" height="16.5" fill="none" stroke="#000" stroke-width="3.2"/>
<rect x="778.73" y="905.35" width="16.5" height="16.5" fill="none" stroke="#000" stroke-width="3.2"/>
<rect x="829.75" y="941.45" width="16.5" height="16.5" fill="none" stroke="#000" stroke-width="3.2"/>
<rect x="880.77" y="951.05" width="16.5" height="16.5" fill="none" stroke="#000" stroke-width="3.2"/>
<rect x="931.80" y="978.05" width="16.5" height="16.5" fill="none" stroke="#000" stroke-width="3.2"/>
<rect x="982.82" y="985.55" width="16.5" height="16.5" fill="none" stroke="#000" stroke-width="3.2"/>
<path d="M633.90,874.90 L645.20,896.40 L622.60,896.40 Z" fill="none" stroke="#000" stroke-width="3.3" stroke-linejoin="miter"/>
<path d="M684.93,895.90 L696.23,917.40 L673.63,917.40 Z" fill="none" stroke="#000" stroke-width="3.3" stroke-linejoin="miter"/>
<path d="M735.95,939.60 L747.25,961.10 L724.65,961.10 Z" fill="none" stroke="#000" stroke-width="3.3" stroke-linejoin="miter"/>
<path d="M786.98,956.30 L798.28,977.80 L775.68,977.80 Z" fill="none" stroke="#000" stroke-width="3.3" stroke-linejoin="miter"/>
<path d="M838.00,971.60 L849.30,993.10 L826.70,993.10 Z" fill="none" stroke="#000" stroke-width="3.3" stroke-linejoin="miter"/>
<path d="M889.02,984.10 L900.32,1005.60 L877.72,1005.60 Z" fill="none" stroke="#000" stroke-width="3.3" stroke-linejoin="miter"/>
<path d="M940.05,987.60 L951.35,1009.10 L928.75,1009.10 Z" fill="none" stroke="#000" stroke-width="3.3" stroke-linejoin="miter"/>
<path d="M991.07,997.40 L1002.37,1018.90 L979.77,1018.90 Z" fill="none" stroke="#000" stroke-width="3.3" stroke-linejoin="miter"/>
<ellipse cx="822.20" cy="618.00" rx="6.5" ry="7.2" fill="none" stroke="#000" stroke-width="3.6"/>
<text transform="translate(876.50,625.50) scale(1.0,1.08)" font-family="&quot;Liberation Serif&quot;, serif" font-size="24" font-weight="normal" text-anchor="start">100%</text>
<path d="M780.00,651.30 L864.20,651.30" fill="none" stroke="#000" stroke-width="3.6" stroke-linecap="round" stroke-linejoin="round"/>
<text transform="translate(876.50,659.60) scale(1.0,1.08)" font-family="&quot;Liberation Serif&quot;, serif" font-size="24" font-weight="normal" text-anchor="start">Prediction (100%)</text>
<rect x="815.90" y="678.10" width="12.6" height="14.6" fill="none" stroke="#000" stroke-width="3.6"/>
<text transform="translate(876.50,693.70) scale(1.0,1.08)" font-family="&quot;Liberation Serif&quot;, serif" font-size="24" font-weight="normal" text-anchor="start">70%</text>
<path d="M780.00,719.50 L864.20,719.50" fill="none" stroke="#000" stroke-width="3.6" stroke-linecap="round" stroke-linejoin="round" stroke-dasharray="6.8 6.4"/>
<text transform="translate(876.50,727.80) scale(1.0,1.08)" font-family="&quot;Liberation Serif&quot;, serif" font-size="24" font-weight="normal" text-anchor="start">Prediction (70%)</text>
<path d="M822.20,748.10 L829.40,761.30 L815.00,761.30 Z" fill="none" stroke="#000" stroke-width="3.8" stroke-linejoin="round"/>
<text transform="translate(876.50,761.90) scale(1.0,1.08)" font-family="&quot;Liberation Serif&quot;, serif" font-size="24" font-weight="normal" text-anchor="start">50%</text>
<path d="M780.00,787.70 L864.20,787.70" fill="none" stroke="#000" stroke-width="3.6" stroke-linecap="round" stroke-linejoin="round" stroke-dasharray="10.2 12.9"/>
<text transform="translate(876.50,796.00) scale(1.0,1.08)" font-family="&quot;Liberation Serif&quot;, serif" font-size="24" font-weight="normal" text-anchor="start">Prediction (50%)</text>
<line x1="177.3" y1="398.2" x2="181.3" y2="398.2" stroke="#c8c8c8" stroke-width="1.2"/>
</svg></body></html>
